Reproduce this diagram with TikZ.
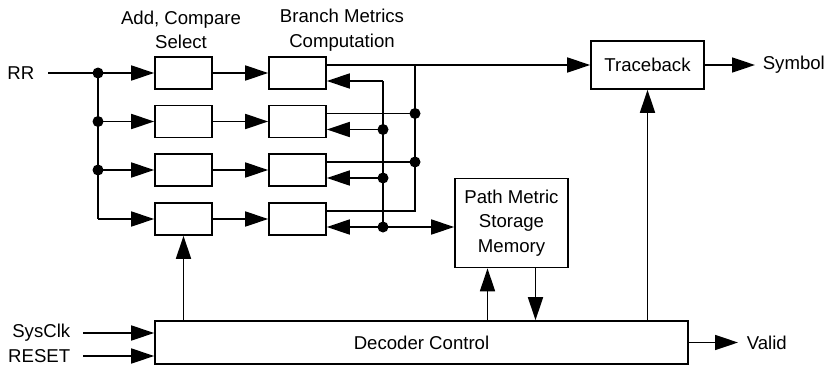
\documentclass[tikz,border=0pt]{standalone}
\usepackage{fontspec}
\setmainfont{Liberation Sans}
\usetikzlibrary{arrows.meta}

\begin{document}
\begin{tikzpicture}[
  x=1pt, y=-1pt, line width=1.6pt,
  every node/.style={font=\fontsize{18.6}{24.5}\selectfont, inner sep=0pt, align=center},
  box/.style={draw, minimum width=57pt, minimum height=32pt},
  arr/.style={-{Triangle[length=23pt,width=15pt]}},
  arrs/.style={{Triangle[length=23pt,width=15pt]}-{Triangle[length=23pt,width=15pt]}},
  dot/.style={circle, fill, minimum size=11pt}
]
  \useasboundingbox (0,0) rectangle (834,367);

  % add-compare-select and branch metric blocks
  \node[box] (acs1) at (183.5,73) {};
  \node[box] (acs2) at (183.5,121.5) {};
  \node[box] (acs3) at (183.5,170) {};
  \node[box] (acs4) at (183.5,219) {};
  \node[box] (bmc1) at (297.5,73) {};
  \node[box] (bmc2) at (297.5,121.5) {};
  \node[box] (bmc3) at (297.5,170) {};
  \node[box] (bmc4) at (297.5,219) {};

  \node (acsl) at (181,30) {Add, Compare\\Select};
  \node (bmcl) at (342,30) {Branch Metrics\\Computation};

  \node[box, minimum width=113pt, minimum height=48pt] (tb) at (647.5,65) {Traceback};
  \node[box, minimum width=113pt, minimum height=89pt] (pm) at (511.5,223) {Path Metric\\Storage\\Memory};
  \node[box, minimum width=533pt, minimum height=43pt] (dc) at (421.5,342.5) {Decoder Control};

  \node[anchor=east] (rr) at (35,73) {RR};
  \node[anchor=east] (clk) at (71,333) {SysClk};
  \node[anchor=east] (rst) at (71,356) {RESET};
  \node[anchor=west] (sym) at (762,65) {Symbol};
  \node[anchor=west] (vld) at (746,342.5) {Valid};

  % bus positions
  \coordinate (ibus) at (98,0);
  \coordinate (fbus) at (383,0);
  \coordinate (obus) at (415,0);
  \coordinate (o1) at ([yshift=8pt]bmc1.east);
  \coordinate (o2) at ([yshift=8pt]bmc2.east);
  \coordinate (o3) at ([yshift=8pt]bmc3.east);
  \coordinate (o4) at ([yshift=8pt]bmc4.east);
  \coordinate (f1) at ([yshift=-8pt]bmc1.east);
  \coordinate (f2) at ([yshift=-8pt]bmc2.east);
  \coordinate (f3) at ([yshift=-8pt]bmc3.east);
  \coordinate (f4) at ([yshift=-8pt]bmc4.east);

  % input fan-out
  \draw[arr] ([xshift=13pt]rr.east) -- (acs1);
  \draw (acs1.west -| ibus) -- (acs4.west -| ibus);
  \draw[arr] (acs2.west -| ibus) -- (acs2);
  \draw[arr] (acs3.west -| ibus) -- (acs3);
  \draw[arr] (acs4.west -| ibus) -- (acs4);
  \node[dot] at (acs1.west -| ibus) {};
  \node[dot] at (acs2.west -| ibus) {};
  \node[dot] at (acs3.west -| ibus) {};

  \draw[arr] (acs1) -- (bmc1);
  \draw[arr] (acs2) -- (bmc2);
  \draw[arr] (acs3) -- (bmc3);
  \draw[arr] (acs4) -- (bmc4);

  % branch metric outputs
  \draw[arr] (o1) -- (tb);
  \draw (o1 -| obus) -- (o4 -| obus) -- (o4);
  \draw (o2) -- (o2 -| obus);
  \draw (o3) -- (o3 -| obus);
  \node[dot] at (o2 -| obus) {};
  \node[dot] at (o3 -| obus) {};

  % path metric feedback
  \draw (f1 -| fbus) -- (f4 -| fbus);
  \draw[arr] (f1 -| fbus) -- (f1);
  \draw[arr] (f2 -| fbus) -- (f2);
  \draw[arr] (f3 -| fbus) -- (f3);
  \draw[arrs] (f4) -- (pm.west |- f4);
  \node[dot] at (f2 -| fbus) {};
  \node[dot] at (f3 -| fbus) {};
  \node[dot] at (f4 -| fbus) {};

  % control
  \draw[arr] (acs4.south |- dc.north) -- (acs4);
  \draw[arr] ([xshift=-24pt]pm.south |- dc.north) -- ([xshift=-24pt]pm.south);
  \draw[arr] ([xshift=24pt]pm.south) -- ([xshift=24pt]pm.south |- dc.north);
  \draw[arr] (tb.south |- dc.north) -- (tb);

  \draw[arr] (tb) -- ([xshift=-7pt]sym.west);
  \draw[arr] (dc) -- ([xshift=-8pt]vld.west);
  \draw[arr] ([xshift=12pt]clk.east) -- (clk.east -| dc.west);
  \draw[arr] ([xshift=12pt]rst.east) -- (rst.east -| dc.west);
\end{tikzpicture}
\end{document}
